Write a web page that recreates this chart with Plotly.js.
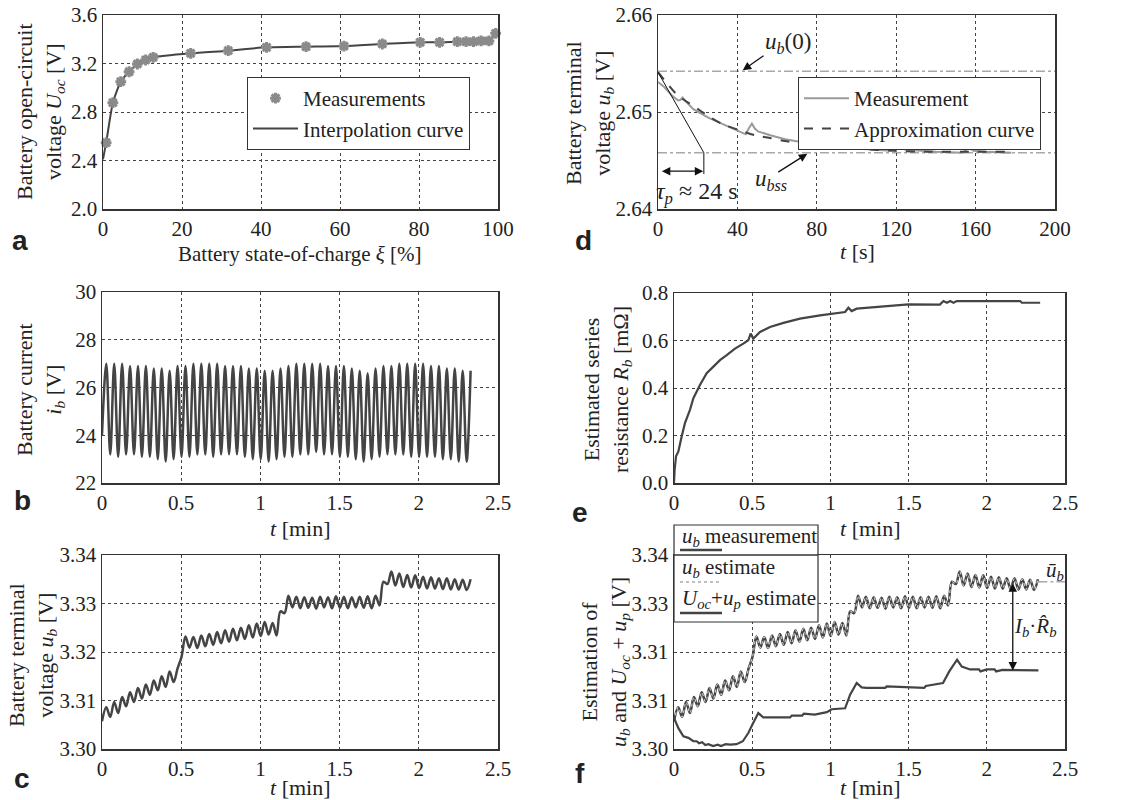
<!DOCTYPE html>
<html>
<head>
<meta charset="utf-8">
<script src="https://cdn.plot.ly/plotly-3.0.1.min.js"></script>
<style>
  html, body { margin: 0; padding: 0; background: #fff; }
  #chart { width: 1126px; height: 800px; }
</style>
</head>
<body>
<div id="chart"></div>
<script>
// ---------- (a) open-circuit voltage vs. state of charge ----------
const socPct   = [0.8, 2.5, 4.5, 6.6, 8.7, 10.8, 12.7, 22.2, 31.7, 41.4, 51.4, 61.0, 70.7, 80.3, 85.2, 89.7, 91.9, 93.8, 95.7, 97.7, 99.4];
const uocMeas  = [2.547, 2.877, 3.050, 3.132, 3.196, 3.229, 3.251, 3.284, 3.306, 3.333, 3.339, 3.344, 3.361, 3.375, 3.375, 3.380, 3.380, 3.380, 3.386, 3.386, 3.449];
const socCurveStart = [0];
const uocCurveStart = [2.41];

// ---------- (d) relaxation of the terminal voltage ----------
const dTimeMeas  = [0, 3, 7, 10, 11, 12.4, 14, 17.8, 25.6, 33, 41, 44.2, 45.7, 47.3, 48.8, 50.4, 56.6, 64, 72, 78.3, 81.4, 83.7, 86, 90, 101.6, 110, 117, 119, 120.5, 122, 125, 140, 150, 153.5, 156.5, 159, 165, 178];
const dVoltMeas  = [2.6531, 2.6526, 2.6517, 2.6512, 2.6512, 2.6515, 2.6511, 2.6503, 2.6494, 2.6487, 2.6480, 2.6477, 2.6483, 2.6488, 2.6483, 2.6480, 2.6476, 2.6472, 2.6469, 2.6466, 2.6468, 2.6475, 2.6470, 2.6467, 2.6462, 2.6461, 2.6460, 2.6464, 2.6468, 2.6463, 2.6461, 2.6459, 2.6458, 2.6458, 2.6463, 2.6460, 2.6459, 2.6458];
const dTimeApprox = [0, 4, 10, 18, 26, 33, 40, 49, 57, 64, 72, 80, 88, 102, 119, 136, 153, 175];
const dVoltApprox = [2.6541, 2.6531, 2.6517, 2.6506, 2.6495, 2.6487, 2.6482, 2.6476, 2.6473, 2.6470, 2.6468, 2.6466, 2.6464, 2.6462, 2.6460, 2.6459, 2.6459, 2.6459];
const ub0  = 2.6542;
const ubss = 2.6458;
const tauP = 23.1;

// ---------- (b) battery current: peaks and troughs of each cycle ----------
const bStart = 24.0;
const bPeaks = [27.0, 27.0, 27.0, 26.9, 26.9, 26.9, 26.8, 26.8, 26.7, 26.9,
                26.9, 27.0, 27.0, 27.0, 27.0, 26.9, 26.9, 26.9, 26.8, 26.8,
                26.7, 26.7, 26.8, 26.9, 27.0, 27.0, 27.0, 27.0, 26.9, 26.9,
                26.9, 26.8, 26.7, 26.6, 26.8, 26.9, 26.9, 27.0, 27.0, 27.0,
                27.0, 26.9, 26.9, 26.8, 26.8, 26.7, 26.7];
const bTroughs = [23.2, 23.1, 23.2, 23.2, 23.1, 23.1, 23.0, 22.9, 23.0, 23.1,
                  23.1, 23.2, 23.2, 23.1, 23.2, 23.2, 23.2, 23.1, 23.0, 23.0,
                  22.9, 23.0, 23.1, 23.1, 23.2, 23.2, 23.3, 23.2, 23.2, 23.1,
                  23.1, 23.0, 22.9, 23.0, 23.1, 23.2, 23.2, 23.2, 23.1, 23.1,
                  23.1, 23.1, 23.0, 23.0, 22.9, 22.9];

// ---------- (c) terminal voltage: peaks and troughs of each cycle ----------
const cStart = 3.3057;
const cPeaks = [3.3086, 3.3097, 3.3107, 3.3117, 3.3126, 3.3133, 3.3141, 3.3150, 3.3160, 3.3166,
                3.3232, 3.3231, 3.3234, 3.3237, 3.3241, 3.3245, 3.3248, 3.3250, 3.3255, 3.3259,
                3.3262, 3.3260, 3.3284, 3.3316, 3.3314, 3.3313, 3.3312, 3.3314, 3.3313, 3.3315,
                3.3314, 3.3313, 3.3314, 3.3315, 3.3316, 3.3345, 3.3366, 3.3362, 3.3359, 3.3358,
                3.3355, 3.3354, 3.3352, 3.3352, 3.3350, 3.3349, 3.3350];
const cTroughs = [3.3066, 3.3074, 3.3088, 3.3097, 3.3104, 3.3112, 3.3121, 3.3128, 3.3138, 3.3190,
                  3.3209, 3.3208, 3.3212, 3.3215, 3.3218, 3.3221, 3.3224, 3.3227, 3.3230, 3.3233,
                  3.3236, 3.3234, 3.3280, 3.3292, 3.3290, 3.3291, 3.3289, 3.3292, 3.3290, 3.3291,
                  3.3290, 3.3292, 3.3291, 3.3290, 3.3296, 3.3340, 3.3337, 3.3334, 3.3333, 3.3332,
                  3.3331, 3.3331, 3.3330, 3.3329, 3.3329, 3.3328];

// ---------- (e) estimated series resistance ----------
const eTime = [0, 0.004, 0.013, 0.028, 0.049, 0.07, 0.102, 0.124, 0.166, 0.209, 0.252, 0.294, 0.337, 0.39, 0.443, 0.475, 0.49, 0.507, 0.55, 0.614, 0.70, 0.806, 0.934, 1.04, 1.094, 1.115, 1.136, 1.168, 1.296, 1.499, 1.70, 1.723, 1.745, 1.766, 1.787, 1.808, 2.213, 2.224, 2.341];
const eRes  = [0, 0.056, 0.112, 0.133, 0.196, 0.252, 0.308, 0.357, 0.413, 0.462, 0.490, 0.517, 0.538, 0.566, 0.587, 0.601, 0.629, 0.608, 0.636, 0.657, 0.674, 0.692, 0.706, 0.716, 0.720, 0.738, 0.724, 0.734, 0.741, 0.752, 0.751, 0.766, 0.759, 0.766, 0.759, 0.766, 0.766, 0.759, 0.759];

// ---------- (f) estimated U_oc + u_p ----------
const fTime  = [0, 0.028, 0.06, 0.092, 0.124, 0.145, 0.16, 0.18, 0.2, 0.22, 0.25, 0.28, 0.3, 0.33, 0.36, 0.4, 0.44, 0.475, 0.507, 0.539, 0.571, 0.65, 0.742, 0.753, 0.82, 0.83, 0.9, 0.977, 1.008, 1.094, 1.126, 1.168, 1.2, 1.232, 1.35, 1.36, 1.6, 1.61, 1.68, 1.72, 1.76, 1.81, 1.84, 1.893, 1.95, 1.96, 2.0, 2.05, 2.06, 2.1, 2.33];
const fUocUp = [3.3064, 3.3043, 3.3026, 3.3023, 3.3016, 3.3016, 3.3012, 3.3014, 3.3008, 3.3010, 3.3006, 3.3009, 3.3006, 3.3010, 3.3009, 3.3010, 3.3016, 3.3033, 3.3054, 3.3074, 3.3065, 3.3065, 3.3065, 3.3069, 3.3069, 3.3073, 3.3071, 3.3076, 3.3082, 3.3084, 3.3112, 3.3136, 3.3127, 3.3126, 3.3126, 3.3129, 3.3126, 3.3130, 3.3133, 3.3136, 3.3160, 3.3184, 3.3170, 3.3164, 3.3164, 3.3160, 3.3164, 3.3164, 3.3160, 3.3163, 3.3162];
const fTickText = ['3.30', '3.31', '3.31', '3.33', '3.34'];
const ubBar = 3.3345;
const ubLow = 3.3162;
const gapTime = 2.166;

// ---------- helpers ----------
const W = 1126, H = 800;
const SERIF = '"Liberation Serif", "Times New Roman", serif';
const SANS = '"Liberation Sans", Arial, sans-serif';
const INK = '#222';
const PERIOD = 0.05, FIRST_PEAK = 0.027;

function oscillation(start, peaks, troughs) {
  const t = [0], v = [start];
  peaks.forEach((p, k) => {
    t.push(FIRST_PEAK + k * PERIOD); v.push(p);
    if (k < troughs.length) { t.push(FIRST_PEAK + (k + 0.5) * PERIOD); v.push(troughs[k]); }
  });
  return { t, v };
}
const px = (x) => x / W;
const py = (y) => 1 - y / H;

function axis(x0, x1, range, tickvals, extra) {
  return Object.assign({
    domain: [x0, x1], range, tickmode: 'array', tickvals,
    showline: true, mirror: true, linecolor: '#333', linewidth: 1.5,
    showgrid: true, gridcolor: '#444', griddash: 'dot', gridwidth: 1,
    zeroline: false, ticks: '', fixedrange: true,
    tickfont: { family: SERIF, size: 21, color: INK }
  }, extra || {});
}
function xAxis(x0, x1, range, tickvals, anchor) {
  return axis(x0, x1, range, tickvals, { anchor });
}

const tMin = [0, 0.5, 1, 1.5, 2, 2.5];
const legendStyle = {
  xanchor: 'left', yanchor: 'top', bgcolor: '#fff', bordercolor: '#333', borderwidth: 1,
  font: { family: SERIF, size: 21, color: INK }, tracegroupgap: 0, itemwidth: 45
};
const layout = {
  width: W, height: H,
  margin: { l: 0, r: 0, t: 0, b: 0 },
  paper_bgcolor: '#fff', plot_bgcolor: '#fff',
  showlegend: true,
  font: { family: SERIF, color: INK },
  // (a)
  xaxis:  xAxis(px(103), px(498), [0, 100], [0, 20, 40, 60, 80, 100], 'y'),
  yaxis:  axis(py(209), py(15), [2.0, 3.6], [2.0, 2.4, 2.8, 3.2, 3.6], { anchor: 'x', tickformat: '.1f' }),
  // (d)
  xaxis2: xAxis(px(658), px(1055), [0, 200], [0, 40, 80, 120, 160, 200], 'y2'),
  yaxis2: axis(py(209), py(15), [2.64, 2.66], [2.64, 2.65, 2.66], { anchor: 'x2', tickformat: '.2f' }),
  // (b)
  xaxis3: xAxis(px(102), px(498), [0, 2.5], tMin, 'y3'),
  yaxis3: axis(py(483), py(292), [22, 30], [22, 24, 26, 28, 30], { anchor: 'x3' }),
  // (e)
  xaxis4: xAxis(px(674), px(1065), [0, 2.5], tMin, 'y4'),
  yaxis4: axis(py(483), py(293), [0, 0.8], [0, 0.2, 0.4, 0.6, 0.8], { anchor: 'x4', tickformat: '.1f' }),
  // (c)
  xaxis5: xAxis(px(102), px(498), [0, 2.5], tMin, 'y5'),
  yaxis5: axis(py(749), py(555), [3.30, 3.34], [3.30, 3.31, 3.32, 3.33, 3.34], { anchor: 'x5', tickformat: '.2f' }),
  // (f)
  xaxis6: xAxis(px(674), px(1065), [0, 2.5], tMin, 'y6'),
  yaxis6: axis(py(749), py(555), [3.30, 3.34], [3.30, 3.31, 3.32, 3.33, 3.34], { anchor: 'x6', ticktext: fTickText }),
  legend:  Object.assign({ x: px(247), y: py(77) }, legendStyle),
  legend2: Object.assign({ x: px(798), y: py(77) }, legendStyle),
  shapes: [], annotations: []
};

// ---------- traces ----------
const bSig = oscillation(bStart, bPeaks, bTroughs);
const cSig = oscillation(cStart, cPeaks, cTroughs);

const traces = [
  // (a)
  { x: socCurveStart.concat(socPct), y: uocCurveStart.concat(uocMeas), xaxis: 'x', yaxis: 'y',
    type: 'scatter', mode: 'lines', name: 'Interpolation curve', legend: 'legend', legendrank: 2,
    line: { color: '#444', width: 2, shape: 'spline', smoothing: 0.6 } },
  { x: socPct, y: uocMeas, xaxis: 'x', yaxis: 'y', type: 'scatter', mode: 'markers',
    name: 'Measurements', legend: 'legend', legendrank: 1, cliponaxis: false,
    marker: { symbol: 'asterisk-open', size: 9, color: '#8a8a8a', line: { color: '#8a8a8a', width: 3 } } },
  // (d)
  { x: dTimeMeas, y: dVoltMeas, xaxis: 'x2', yaxis: 'y2', type: 'scatter', mode: 'lines',
    name: 'Measurement', legend: 'legend2', legendrank: 1,
    line: { color: '#9a9a9a', width: 2 } },
  { x: dTimeApprox, y: dVoltApprox, xaxis: 'x2', yaxis: 'y2', type: 'scatter', mode: 'lines',
    name: 'Approximation curve', legend: 'legend2', legendrank: 2,
    line: { color: '#444', width: 2, dash: 'dash', shape: 'spline', smoothing: 0.8 } },
  // (b)
  { x: bSig.t, y: bSig.v, xaxis: 'x3', yaxis: 'y3', type: 'scatter', mode: 'lines', showlegend: false,
    line: { color: '#444', width: 2.5, shape: 'spline', smoothing: 1 } },
  // (e)
  { x: eTime, y: eRes, xaxis: 'x4', yaxis: 'y4', type: 'scatter', mode: 'lines', showlegend: false,
    line: { color: '#444', width: 2.2 } },
  // (c)
  { x: cSig.t, y: cSig.v, xaxis: 'x5', yaxis: 'y5', type: 'scatter', mode: 'lines', showlegend: false,
    line: { color: '#444', width: 2.5, shape: 'spline', smoothing: 1 } },
  // (f)
  { x: cSig.t, y: cSig.v, xaxis: 'x6', yaxis: 'y6', type: 'scatter', mode: 'lines', showlegend: false,
    line: { color: '#444', width: 2.5, shape: 'spline', smoothing: 1 } },
  { x: cSig.t, y: cSig.v, xaxis: 'x6', yaxis: 'y6', type: 'scatter', mode: 'lines', showlegend: false,
    line: { color: '#c4c4c4', width: 1.2, dash: 'dot', shape: 'spline', smoothing: 1 } },
  { x: fTime, y: fUocUp, xaxis: 'x6', yaxis: 'y6', type: 'scatter', mode: 'lines', showlegend: false,
    line: { color: '#444', width: 2.2 } }
];

// ---------- shapes ----------
const S = layout.shapes;
// (d) reference levels and time-constant construction
S.push({ type: 'line', xref: 'x2', yref: 'y2', x0: 0, x1: 200, y0: ub0, y1: ub0, layer: 'below',
         line: { color: '#a8a8a8', width: 1.5, dash: 'dashdot' } });
S.push({ type: 'line', xref: 'x2', yref: 'y2', x0: 0, x1: 200, y0: ubss, y1: ubss, layer: 'below',
         line: { color: '#a8a8a8', width: 1.5, dash: 'dashdot' } });
S.push({ type: 'line', xref: 'x2', yref: 'y2', x0: 0, x1: tauP, y0: 2.6541, y1: ubss,
         line: { color: '#111', width: 1 } });
S.push({ type: 'line', xref: 'x2', yref: 'y2', x0: tauP, x1: tauP, y0: ubss, y1: 2.6436,
         line: { color: '#111', width: 1 } });
// (f) mean level
S.push({ type: 'line', xref: 'x6', yref: 'y6', x0: 2.33, x1: 2.5, y0: ubBar, y1: ubBar,
         line: { color: '#a8a8a8', width: 1.5, dash: 'dashdot' } });
// (f) legend box, with the frame line drawn over it
S.push({ type: 'rect', xref: 'paper', yref: 'paper', x0: px(674), x1: px(818), y0: py(622), y1: py(525),
         fillcolor: '#fff', line: { color: '#333', width: 1.2 } });
S.push({ type: 'line', xref: 'paper', yref: 'paper', x0: px(674), x1: px(818), y0: py(555), y1: py(555),
         line: { color: '#333', width: 1.5 } });
S.push({ type: 'line', xref: 'paper', yref: 'paper', x0: px(680), x1: px(722), y0: py(550), y1: py(550),
         line: { color: '#444', width: 2.5 } });
S.push({ type: 'line', xref: 'paper', yref: 'paper', x0: px(680), x1: px(722), y0: py(582), y1: py(582),
         line: { color: '#aaa', width: 1.5, dash: 'dot' } });
S.push({ type: 'line', xref: 'paper', yref: 'paper', x0: px(680), x1: px(722), y0: py(613), y1: py(613),
         line: { color: '#444', width: 2.5 } });

// ---------- annotations ----------
const A = layout.annotations;
function paperText(x, y, text, size, extra) {
  A.push(Object.assign({ xref: 'paper', yref: 'paper', x: px(x), y: py(y), text, showarrow: false,
    xanchor: 'center', yanchor: 'middle', font: { family: SERIF, size: size || 22, color: INK } }, extra || {}));
}
// panel letters
[['a', 20, 240], ['b', 22, 500], ['c', 22, 778], ['d', 583, 240], ['e', 580, 512], ['f', 580, 773]]
  .forEach(([s, x, y]) => paperText(x, y, '<b>' + s + '</b>', 28, { font: { family: SANS, size: 28, color: INK } }));

// axis titles
paperText(300, 254, 'Battery state-of-charge <i>ξ</i> [%]', 21);
paperText(857, 252, '<i>t</i> [s]');
paperText(300, 528, '<i>t</i> [min]');
paperText(870, 528, '<i>t</i> [min]');
paperText(300, 787, '<i>t</i> [min]');
paperText(870, 787, '<i>t</i> [min]');
paperText(40, 112, 'Battery open-circuit<br>voltage <i>U<sub>oc</sub></i> [V]', 22, { textangle: -90 });
paperText(589, 113, 'Battery terminal<br>voltage <i>u<sub>b</sub></i> [V]', 22, { textangle: -90 });
paperText(40, 390, 'Battery current<br><i>i<sub>b</sub></i> [V]', 22, { textangle: -90 });
paperText(607, 390, 'Estimated series<br>resistance <i>R<sub>b</sub></i> [mΩ]', 22, { textangle: -90 });
paperText(32, 655, 'Battery terminal<br>voltage <i>u<sub>b</sub></i> [V]', 22, { textangle: -90 });
paperText(605, 662, 'Estimation of<br><i>u<sub>b</sub></i> and <i>U<sub>oc</sub></i> + <i>u<sub>p</sub></i> [V]', 22, { textangle: -90 });

// (f) legend entries
paperText(680, 537, '<i>u<sub>b</sub></i> measurement', 21, { xanchor: 'left' });
paperText(680, 568, '<i>u<sub>b</sub></i> estimate', 21, { xanchor: 'left' });
paperText(680, 599, '<i>U<sub>oc</sub></i>+<i>u<sub>p</sub></i> estimate', 21, { xanchor: 'left' });

// (d) labels and arrows
function dataText(xr, yr, x, y, text, size) {
  A.push({ xref: xr, yref: yr, x, y, text, showarrow: false, xanchor: 'center', yanchor: 'middle',
           font: { family: SERIF, size: size || 23, color: INK } });
}
function arrow(xr, yr, x, y, ax, ay, both) {
  A.push({ xref: xr, yref: yr, axref: xr, ayref: yr, x, y, ax, ay, text: '', showarrow: true,
           arrowhead: 2, arrowsize: 1.3, arrowwidth: 1.3, arrowcolor: '#111',
           arrowside: both ? 'end+start' : 'end', startarrowhead: 2, startarrowsize: 1.3,
           standoff: 0, startstandoff: 0 });
}
dataText('x2', 'y2', 65.5, 2.6571, '<i>u<sub>b</sub></i>(0)');
arrow('x2', 'y2', 42.7, 2.6543, 53.9, 2.6559);
dataText('x2', 'y2', 56.8, 2.6430, '<i>u<sub>bss</sub></i>');
arrow('x2', 'y2', 75.2, 2.6457, 59.8, 2.6437);
arrow('x2', 'y2', 22.8, 2.6439, 1.2, 2.6439, true);
dataText('x2', 'y2', 19.6, 2.6417, '<i>τ<sub>p</sub></i> ≈ 24 s', 24);

// (f) labels and arrows
dataText('x6', 'y6', 2.436, 3.3366, '<i>ū<sub>b</sub></i>', 21);
arrow('x6', 'y6', gapTime, ubLow, gapTime, ubBar, true);
dataText('x6', 'y6', 2.31, 3.3252, '<i>I<sub>b</sub></i>·<i>R̂<sub>b</sub></i>', 21);

Plotly.newPlot('chart', traces, layout, { staticPlot: true, displayModeBar: false });
</script>
</body>
</html>
